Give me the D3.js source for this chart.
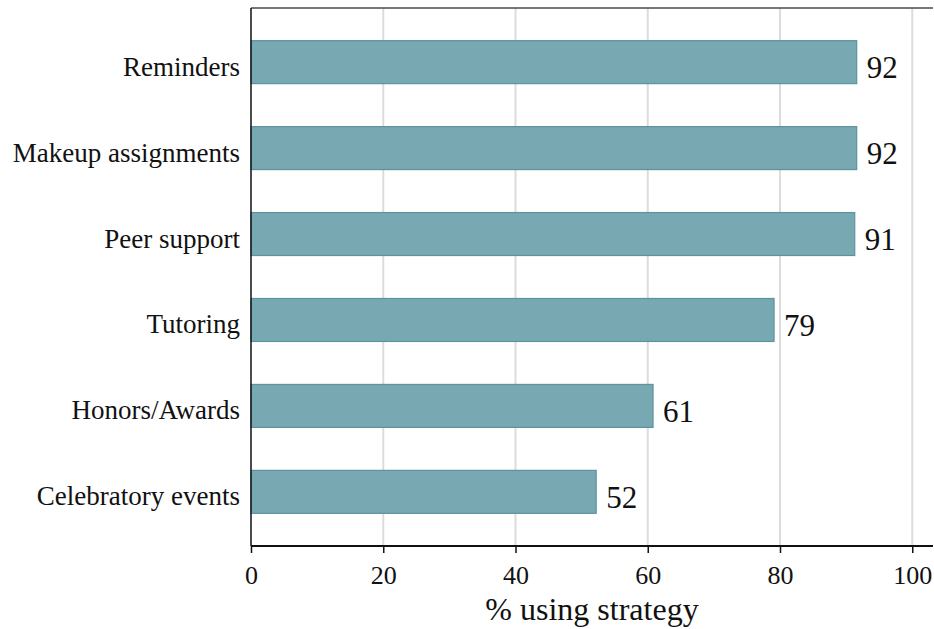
<!DOCTYPE html>
<html>
<head>
<meta charset="utf-8">
<script src="https://cdn.jsdelivr.net/npm/d3@7"></script>
<style>
  html, body { margin: 0; padding: 0; background: #fff; }
  svg { display: block; }
  text { font-family: "Liberation Serif", "DejaVu Serif", serif; fill: #111; }
</style>
</head>
<body>
<svg id="chart" width="934" height="629"></svg>
<script>
const categories = ["Reminders", "Makeup assignments", "Peer support", "Tutoring", "Honors/Awards", "Celebratory events"];
const values = [91.6, 91.6, 91.3, 79.1, 60.8, 52.2];
const xTicks = [0, 20, 40, 60, 80, 100];
const xTitle = "% using strategy";

const W = 934, H = 629;
const m = { left: 251, right: 1, top: 8, bottom: 83 };
const svg = d3.select("#chart");

const x = d3.scaleLinear().domain([0, 100]).range([m.left, 912.25]);
const y = d3.scaleBand().domain(categories).range([m.top, H - m.bottom]).paddingInner(0.5).paddingOuter(0.38);

const xRight = W - m.right;
const yBottom = H - m.bottom;

// grid
svg.append("g").selectAll("line").data(xTicks.filter(d => d > 0)).join("line")
  .attr("x1", d => x(d)).attr("x2", d => x(d))
  .attr("y1", m.top).attr("y2", yBottom)
  .attr("stroke", "#dcdcdc").attr("stroke-width", 2);

// top border
svg.append("line").attr("x1", m.left).attr("x2", xRight)
  .attr("y1", m.top).attr("y2", m.top)
  .attr("stroke", "#4a4a4a").attr("stroke-width", 1.5);

// bars
svg.append("g").selectAll("rect").data(categories).join("rect")
  .attr("x", x(0))
  .attr("y", d => y(d))
  .attr("width", (d, i) => x(values[i]) - x(0))
  .attr("height", y.bandwidth())
  .attr("fill", "#78a8b2")
  .attr("stroke", "#5b949f")
  .attr("stroke-width", 1.2);

// value labels
const fmt = d3.format(".0f");
svg.append("g").selectAll("text").data(categories).join("text")
  .attr("x", (d, i) => x(values[i]) + 10)
  .attr("y", d => y(d) + y.bandwidth() / 2 + 16)
  .attr("font-size", 31)
  .text((d, i) => fmt(values[i]));

// category labels
svg.append("g").selectAll("text").data(categories).join("text")
  .attr("x", m.left - 11)
  .attr("y", d => y(d) + y.bandwidth() / 2 + 13.5)
  .attr("text-anchor", "end")
  .attr("font-size", 27)
  .text(d => d);

// left axis line
svg.append("line").attr("x1", m.left).attr("x2", m.left)
  .attr("y1", m.top).attr("y2", yBottom)
  .attr("stroke", "#111").attr("stroke-width", 1.5);

// bottom axis
const xAxis = d3.axisBottom(x).tickValues(xTicks).tickSize(7).tickPadding(13).tickSizeOuter(0);
const gx = svg.append("g").attr("transform", `translate(0,${yBottom})`).call(xAxis);
gx.select(".domain").remove();
gx.selectAll(".tick line").attr("stroke", "#111").attr("stroke-width", 1.5);
gx.selectAll(".tick text").attr("font-size", 26).attr("font-family", "Liberation Serif, serif").attr("fill", "#111");
svg.append("line").attr("x1", m.left).attr("x2", xRight)
  .attr("y1", yBottom).attr("y2", yBottom)
  .attr("stroke", "#111").attr("stroke-width", 2);

// x title
svg.append("text")
  .attr("x", (m.left + xRight) / 2)
  .attr("y", 620)
  .attr("text-anchor", "middle")
  .attr("font-size", 32)
  .text(xTitle);
</script>
</body>
</html>
